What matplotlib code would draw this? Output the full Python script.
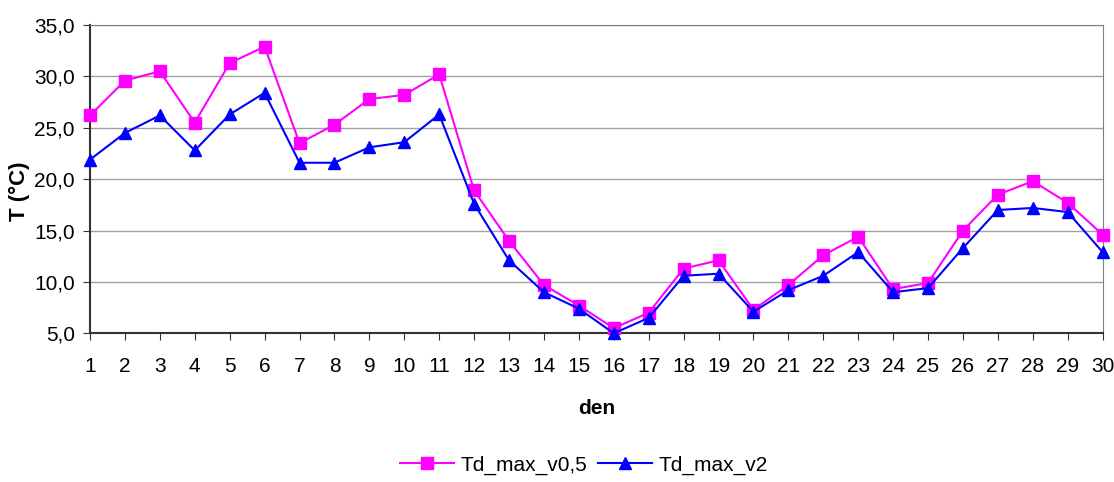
import matplotlib
matplotlib.use('Agg')
import matplotlib.pyplot as plt
from matplotlib.ticker import FuncFormatter

days = list(range(1, 31))
td_v05 = [26.2, 29.6, 30.5, 25.5, 31.3, 32.9, 23.5, 25.3, 27.8, 28.2,
          30.2, 18.9, 14.0, 9.7, 7.7, 5.5, 7.0, 11.3, 12.1, 7.3,
          9.7, 12.6, 14.4, 9.3, 9.9, 15.0, 18.5, 19.8, 17.7, 14.6]
td_v2 = [21.9, 24.5, 26.2, 22.8, 26.3, 28.4, 21.6, 21.6, 23.1, 23.6,
         26.3, 17.6, 12.1, 9.0, 7.4, 5.0, 6.5, 10.6, 10.8, 7.1,
         9.2, 10.6, 12.9, 9.0, 9.4, 13.3, 17.0, 17.2, 16.8, 12.9]

plt.rcParams['font.family'] = ['Liberation Sans', 'DejaVu Sans']

fig = plt.figure(figsize=(11.14, 4.82), dpi=100)
ax = fig.add_axes([0.0808, 0.3085, 0.909, 0.6395])

ax.plot(days, td_v05, color='#ff00ff', marker='s', markersize=8, lw=1.5,
        label='Td_max_v0,5', clip_on=False, zorder=3)
ax.plot(days, td_v2, color='#0000ff', marker='^', markersize=9, lw=1.5,
        label='Td_max_v2', clip_on=False, zorder=4)

ax.set_xlim(1, 30)
ax.set_ylim(5, 35)
ax.set_xticks(days)
ax.set_yticks(range(5, 36, 5))
ax.yaxis.set_major_formatter(FuncFormatter(lambda v, p: f'{v:.1f}'.replace('.', ',')))
ax.grid(axis='y', color='#a0a0a0', lw=1)
ax.set_axisbelow(True)
ax.tick_params(labelsize=15, length=5, color='#333333')
ax.tick_params(axis='x', pad=12)
ax.tick_params(axis='y', pad=6)

for s in ['top', 'right']:
    ax.spines[s].set_color('#808080')
for s in ['left', 'bottom']:
    ax.spines[s].set_color('#333333')
    ax.spines[s].set_linewidth(1.5)

ax.set_xlabel('den', fontsize=15, fontweight='bold', va='center')
ax.xaxis.set_label_coords(0.5, -0.2424)
ax.set_ylabel('T (°C)', fontsize=16, fontweight='bold', va='center')
ax.yaxis.set_label_coords(-0.07, 0.46)

fig.legend(loc='center', bbox_to_anchor=(0.524, 0.035), ncol=2, frameon=False,
           fontsize=15, handlelength=2.6, columnspacing=0.5, handletextpad=0.3)

plt.savefig('out.png', dpi=100)
